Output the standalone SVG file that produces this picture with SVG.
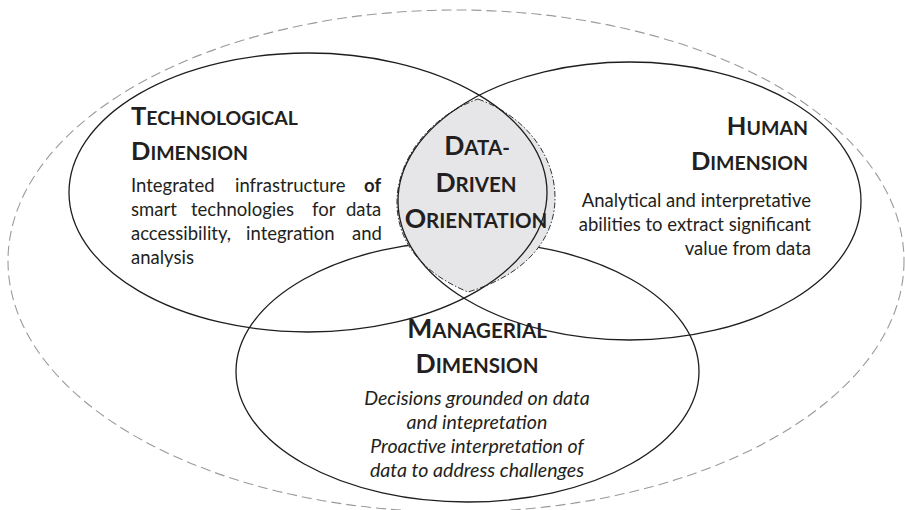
<svg xmlns="http://www.w3.org/2000/svg" width="905" height="510" viewBox="0 0 905 510">
<style>
.ring{fill:none;stroke:#1e1e1e;stroke-width:1.3}
.outer{fill:none;stroke:#9a9a9a;stroke-width:1.1;stroke-dasharray:10 5}
.lens{fill:#e6e6e8;stroke:#333;stroke-width:1;stroke-dasharray:6 2 1.5 2}
.t{font-family:Lato,"Open Sans","Liberation Sans",sans-serif;fill:#231f20}
.h{font-weight:bold;font-size:19.5px}
.hb{font-size:25.5px}
.h2{font-weight:bold;font-size:20.5px}
.hb2{font-size:26.5px}
.b{font-size:18.5px}
.i{font-size:19.6px;font-style:italic}
</style>
<g id="outer"><ellipse class="outer" cx="456" cy="261" rx="448" ry="251"/></g>
<g id="managerial">
<ellipse class="ring" cx="467.5" cy="371.5" rx="231.5" ry="130.5"/>
</g>
<g id="data-driven">
<path class="lens" d="M478 99 C530 118 556 160 555 200 C554 242 522 276 468 292 C420 272 396 240 397 200 C398 160 428 117 478 99 Z"/>
</g>
<g id="technological">
<ellipse class="ring" cx="308" cy="192.5" rx="239" ry="139.5"/>
</g>
<g id="human">
<ellipse class="ring" cx="629.5" cy="201" rx="231.5" ry="139"/>
</g>
<g id="connectors"></g>
<g id="technological-text" class="t">
<text class="h" x="131" y="125"><tspan class="hb">T</tspan>ECHNOLOGICAL</text>
<text class="h" x="131" y="160"><tspan class="hb">D</tspan>IMENSION</text>
<text class="b" y="192"><tspan x="131">Integrated</tspan><tspan x="235">infrastructure</tspan><tspan x="364" font-weight="bold">of</tspan></text>
<text class="b" y="216"><tspan x="131">smart</tspan><tspan x="191">technologies</tspan><tspan x="312">for</tspan><tspan x="346">data</tspan></text>
<text class="b" y="240"><tspan x="131">accessibility,</tspan><tspan x="246">integration</tspan><tspan x="352">and</tspan></text>
<text class="b" x="131" y="264">analysis</text>
</g>
<g id="human-text" class="t" text-anchor="end">
<text class="h" x="808" y="135"><tspan class="hb">H</tspan>UMAN</text>
<text class="h" x="808" y="170"><tspan class="hb">D</tspan>IMENSION</text>
<text class="b" x="811" y="207">Analytical and interpretative</text>
<text class="b" x="811" y="231">abilities to extract significant</text>
<text class="b" x="811" y="255">value from data</text>
</g>
<g id="managerial-text" class="t" text-anchor="middle">
<text class="h2" x="477" y="338"><tspan class="hb2">M</tspan>ANAGERIAL</text>
<text class="h2" x="477" y="373"><tspan class="hb2">D</tspan>IMENSION</text>
<text class="i" x="477" y="405">Decisions grounded on data</text>
<text class="i" x="477" y="429">and intepretation</text>
<text class="i" x="477" y="453">Proactive interpretation of</text>
<text class="i" x="477" y="477">data to address challenges</text>
</g>
<g id="data-driven-text" class="t" text-anchor="middle">
<text class="h2" x="477" y="155"><tspan class="hb2">D</tspan>ATA-</text>
<text class="h2" x="476" y="192"><tspan class="hb2">D</tspan>RIVEN</text>
<text class="h2" x="476" y="228"><tspan class="hb2">O</tspan>RIENTATION</text>
</g>
</svg>
